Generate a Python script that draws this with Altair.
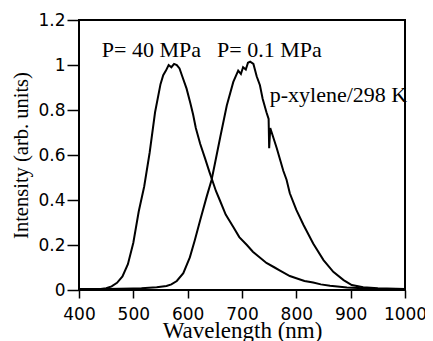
import altair as alt
import pandas as pd

# 40 MPa spectrum
wl_40 = [400, 420, 440, 450, 460, 470, 480, 490, 500, 510, 520, 530, 540, 550, 555, 560, 565, 570, 575,
         580, 585, 590, 598, 605, 610, 615, 623, 632, 640, 645, 652, 659, 670, 684, 695, 709, 720, 730,
         745, 760, 770, 788, 800, 815, 831, 845, 862, 880, 893, 923, 950, 1000]
int_40 = [0.004, 0.004, 0.004, 0.008, 0.016, 0.032, 0.060, 0.115, 0.210, 0.350, 0.460, 0.610, 0.790,
          0.915, 0.955, 0.975, 1.000, 0.990, 1.005, 1.000, 0.985, 0.950, 0.895, 0.830, 0.780, 0.720,
          0.650, 0.585, 0.525, 0.490, 0.440, 0.400, 0.335, 0.280, 0.235, 0.200, 0.170, 0.150, 0.120,
          0.100, 0.086, 0.062, 0.052, 0.040, 0.033, 0.025, 0.019, 0.014, 0.011, 0.008, 0.005, 0.004]

# 0.1 MPa spectrum
wl_01 = [400, 450, 500, 515, 543, 561, 570, 580, 592, 604, 613, 623, 635, 644, 650, 660, 672, 684, 693,
         698, 702, 707, 711, 715, 721, 727, 733, 738, 745, 749, 750, 752, 756, 764, 770, 776, 782, 788,
         800, 813, 831, 850, 868, 887, 902, 923, 950, 1000]
int_01 = [0.004, 0.005, 0.007, 0.008, 0.012, 0.018, 0.025, 0.040, 0.075, 0.145, 0.220, 0.310, 0.415,
          0.489, 0.560, 0.680, 0.820, 0.925, 0.975, 0.960, 0.990, 0.980, 1.010, 1.015, 1.005, 0.950,
          0.910, 0.850, 0.790, 0.760, 0.630, 0.720, 0.690, 0.630, 0.580, 0.530, 0.490, 0.430, 0.356,
          0.290, 0.207, 0.133, 0.081, 0.044, 0.022, 0.012, 0.008, 0.005]

labels = ["P= 40 MPa", "P= 0.1 MPa", "p-xylene/298 K"]
label_x = [442, 654, 751]
label_y = [1.036, 1.036, 0.836]

df = pd.concat([
    pd.DataFrame({"wl": wl_40, "I": int_40, "s": "40 MPa"}),
    pd.DataFrame({"wl": wl_01, "I": int_01, "s": "0.1 MPa"}),
])
lab = pd.DataFrame({"x": label_x, "y": label_y, "t": labels})

xs = alt.Scale(domain=[400, 1000], nice=False)
ys = alt.Scale(domain=[0, 1.2], nice=False)

lines = alt.Chart(df).mark_line(color="black", strokeWidth=2).encode(
    x=alt.X("wl:Q", scale=xs, title="Wavelength (nm)",
            axis=alt.Axis(values=[400, 500, 600, 700, 800, 900, 1000], format="d",
                          tickSize=8, labelPadding=8, titleBaseline="alphabetic", titleY=47,
                          titleFontSize=23)),
    y=alt.Y("I:Q", scale=ys, title="Intensity (arb. units)",
            axis=alt.Axis(values=[0, 0.2, 0.4, 0.6, 0.8, 1.0, 1.2], format="~g",
                          tickSize=12, labelPadding=2, titlePadding=6, titleFontSize=20.5)),
    detail="s:N",
)

text = alt.Chart(lab).mark_text(align="left", baseline="alphabetic", font="Liberation Serif",
                                fontSize=22, color="black").encode(
    x=alt.X("x:Q", scale=xs), y=alt.Y("y:Q", scale=ys), text="t:N")

chart = alt.layer(lines, text).properties(
    width=326, height=270,
    autosize=alt.AutoSizeParams(type="none"),
    padding={"left": 71, "top": 12, "right": 20, "bottom": 51},
).configure_view(stroke="black", strokeWidth=2).configure_axis(
    domain=False, grid=False, ticks=True, tickColor="black", tickWidth=1.5,
    labelFont="DejaVu Sans", labelFontSize=17, labelColor="black", labelFlush=False,
    titleFont="Liberation Serif", titleFontWeight="normal", titleColor="black",
)

chart.save("out.html", embed_options={"renderer": "svg", "actions": False})
